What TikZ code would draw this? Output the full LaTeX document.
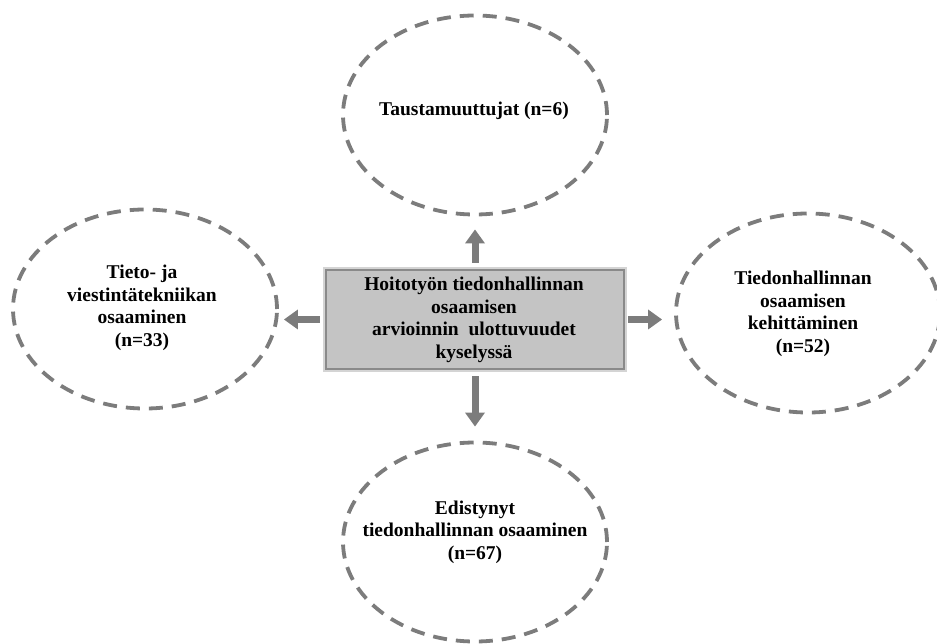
\documentclass[tikz,border=0pt]{standalone}
\usepackage{fontspec}
\setmainfont{Liberation Serif}
\usetikzlibrary{arrows.meta,shapes.geometric}
\definecolor{linegray}{HTML}{7C7C7C}
\definecolor{boxfill}{HTML}{C4C4C4}
\definecolor{boxedge}{HTML}{8A8A8A}
\definecolor{halo}{HTML}{D4D4D4}
\begin{document}
\begin{tikzpicture}[x=1pt,y=-1pt,
  ell/.style={ellipse, draw=linegray, line width=3.8pt,
    dash pattern=on 14pt off 9pt, minimum width=264pt, minimum height=199pt,
    inner sep=0pt},
  txt/.style={align=center, font=\fontsize{19.5}{22.5}\selectfont\bfseries,
    inner sep=0pt},
  centerbox/.style={rectangle, fill=boxfill, draw=boxedge, line width=2.4pt,
    minimum width=298pt, minimum height=99pt, inner sep=0pt,
    preaction={draw=halo, line width=6pt}},
  arr/.style={draw=linegray, line width=7pt,
    -{Triangle[width=19pt,length=14pt]}}]
\useasboundingbox (0,0) rectangle (937,644);

% four outcome areas
\node[ell] (top)   at (475,115) {};
\node[ell] (left)  at (145,309) {};
\node[ell] (right) at (808,313) {};
\node[ell] (bot)   at (475,542) {};

\node[txt] (toplbl)   at (474,111) {Taustamuuttujat (n=6)};
\node[txt] (leftlbl)  at (142,308) {Tieto- ja\\viestintätekniikan\\osaaminen\\(n=33)};
\node[txt] (rightlbl) at (803,314) {Tiedonhallinnan\\osaamisen\\kehittäminen\\(n=52)};
\node[txt] (botlbl)   at (475,532) {Edistynyt\\tiedonhallinnan osaaminen\\(n=67)};

% central box
\node[centerbox] (box) at (475,319.5) {};
\node[txt] (boxlbl) at (474,320) {Hoitotyön tiedonhallinnan\\osaamisen\\arvioinnin~~ulottuvuudet\\kyselyssä};

% connectors
\draw[arr, shorten <=6pt, shorten >=13pt] (box.north) -- (top.south);
\draw[arr, shorten <=6pt, shorten >=14pt] (box.south) -- (bot.north);
\draw[arr, shorten <=5pt, shorten >=5pt] (box.west) -- (box.west -| left.east);
\draw[arr, shorten <=3pt, shorten >=12pt] (box.east) -- (box.east -| right.west);
\end{tikzpicture}
\end{document}
